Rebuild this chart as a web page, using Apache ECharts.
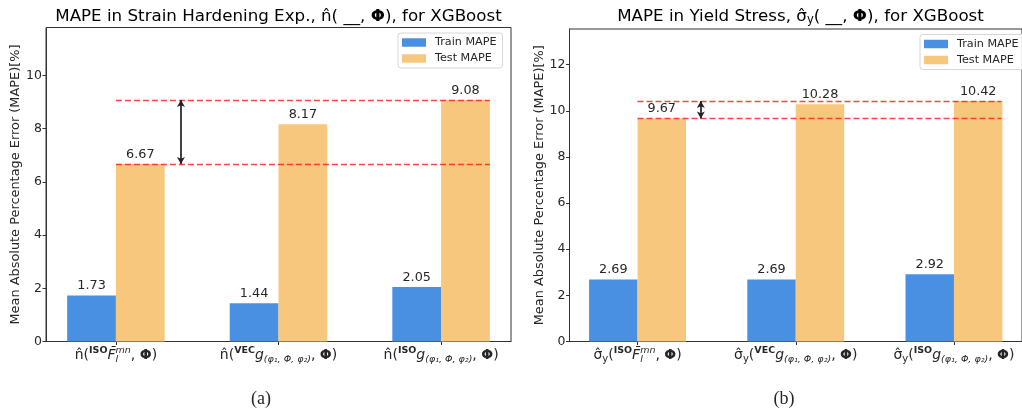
<!DOCTYPE html>
<html>
<head>
<meta charset="utf-8">
<script src="https://cdn.jsdelivr.net/npm/echarts@6/dist/echarts.min.js"></script>
<style>
html, body { margin: 0; padding: 0; background: #fff; }
#chart { width: 1022px; height: 416px; }
</style>
</head>
<body>
<div id="chart"></div>
<script>
// 数据
var xTicks = [0, 1, 2];
var trainN = [1.73, 1.44, 2.05];
var testN = [6.67, 8.17, 9.08];
var trainS = [2.69, 2.69, 2.92];
var testS = [9.67, 10.28, 10.42];
var yTicksN = [0, 2, 4, 6, 8, 10];
var yTicksS = [0, 2, 4, 6, 8, 10, 12];
var labelsN = [
	'{t|n̂(}{sup|ISO}{it|F̄}{sub|l}{sup2|mn}{t|, }{b|Φ}{t|)}',
	'{t|n̂(}{sup|VEC}{it|g}{sub2|(φ₁, Φ, φ₂)}{t|, }{b|Φ}{t|)}',
	'{t|n̂(}{sup|ISO}{it|g}{sub2|(φ₁, Φ, φ₂)}{t|, }{b|Φ}{t|)}'
];
var labelsS = [
	'{t|σ̂}{ys|y}{t|(}{sup|ISO}{it|F̄}{sub|l}{sup2|mn}{t|, }{b|Φ}{t|)}',
	'{t|σ̂}{ys|y}{t|(}{sup|VEC}{it|g}{sub2|(φ₁, Φ, φ₂)}{t|, }{b|Φ}{t|)}',
	'{t|σ̂}{ys|y}{t|(}{sup|ISO}{it|g}{sub2|(φ₁, Φ, φ₂)}{t|, }{b|Φ}{t|)}'
];
// 差值标注: [箭头x, 下, 上, 文字x, 文字]
var gapN = [0.4, 6.67, 9.08, 0.47, '2.41'];
var gapS = [0.4, 9.67, 10.42, 0.47, '0.76'];
var lineEnd = 2.3;

var font = 'DejaVu Sans';
var txt = '#262626';
var blue = '#4a90e2';
var orange = '#f8c77e';

var rich = {
	t: { fontSize: 14, fontFamily: font, color: txt, align: 'left' },
	b: { fontSize: 14, fontFamily: font, color: txt, fontWeight: 'bold', align: 'left' },
	it: { fontSize: 14, fontFamily: font, color: txt, fontStyle: 'italic', align: 'left' },
	sup: { fontSize: 9.5, fontFamily: font, color: txt, fontWeight: 'bold', padding: [0, 0, 10, 0], align: 'left' },
	sub: { fontSize: 9.5, fontFamily: font, color: txt, fontStyle: 'italic', padding: [8, 0, 0, 0], width: 0, align: 'left' },
	sup2: { fontSize: 9.5, fontFamily: font, color: txt, fontStyle: 'italic', padding: [0, 0, 10, 0], align: 'left' },
	sub2: { fontSize: 9.5, fontFamily: font, color: txt, fontStyle: 'italic', padding: [8, 0, 0, 0], align: 'left' },
	ys: { fontSize: 10, fontFamily: font, color: txt, padding: [7, 0, 0, 0], align: 'left' }
};
var titleRich = {
	t: { fontSize: 16.7, fontFamily: font, color: txt },
	b: { fontSize: 16.7, fontFamily: font, color: txt, fontWeight: 'bold' },
	s: { fontSize: 11.5, fontFamily: font, color: txt, padding: [8, 0, 0, 0] }
};

var grids = [
	{ left: 46, top: 27.5, width: 465, height: 314 },
	{ left: 569.5, top: 29, width: 462, height: 312.5 }
];
var xMin = -0.43, xMax = 2.43;

function bw(g) {
	return 0.3 * g.width / (xMax - xMin);
}

function pairs(vals) {
	return vals.map(function (v, i) { return [xTicks[i], v]; });
}

function xAxis(idx, labels) {
	return {
		type: 'value', gridIndex: idx, min: xMin, max: xMax,
		axisLine: { show: true, onZero: false, lineStyle: { color: '#333', width: 1 } },
		axisTick: { show: true, customValues: xTicks, length: 3.5, lineStyle: { color: '#333' } },
		axisLabel: {
			customValues: xTicks, margin: 4, rich: rich,
			formatter: function (v) { return labels[Math.round(v)]; }
		},
		splitLine: { show: false }
	};
}

function yAxis(idx, max, ticks) {
	return {
		type: 'value', gridIndex: idx, min: 0, max: max,
		name: 'Mean Absolute Percentage Error (MAPE)[%]',
		nameLocation: 'middle', nameGap: 22,
		nameTextStyle: { fontSize: 12.9, fontFamily: font, color: txt },
		axisLine: { show: true, onZero: false, lineStyle: { color: '#333', width: 1 } },
		axisTick: { show: true, customValues: ticks, length: 3.5, lineStyle: { color: '#333' } },
		axisLabel: { customValues: ticks, fontSize: 12.5, fontFamily: font, color: txt, margin: 4 },
		splitLine: { show: false }
	};
}

function barLabel() {
	return {
		show: true, position: 'top', distance: 3,
		fontSize: 12.8, fontFamily: font, color: txt,
		formatter: function (p) { return p.value[1].toFixed(2); }
	};
}

// 红色虚线 + 双向箭头 (挂在 scatter 上, 避免柱子偏移)
function marks(test, gap) {
	var red = { color: 'rgba(255,20,20,0.8)', type: [6, 3], width: 1.4 };
	return {
		silent: true, symbol: 'none', label: { show: false }, animation: false,
		data: [
			[{ coord: [0, test[0]], lineStyle: red }, { coord: [lineEnd, test[0]] }],
			[{ coord: [0, test[2]], lineStyle: red }, { coord: [lineEnd, test[2]] }],
			[{ coord: [gap[0], gap[1]], symbol: 'arrow', symbolSize: [6, 7], lineStyle: { color: '#222', type: 'solid', width: 1.7 } },
			 { coord: [gap[0], gap[2]], symbol: 'arrow', symbolSize: [6, 7] }]
		]
	};
}

function series(idx, train, test, gap) {
	var g = grids[idx];
	return [{
		name: 'Train MAPE', type: 'bar', xAxisIndex: idx, yAxisIndex: idx,
		data: pairs(train), barWidth: bw(g), barGap: '0%',
		itemStyle: { color: blue }, label: barLabel()
	}, {
		name: 'Test MAPE', type: 'bar', xAxisIndex: idx, yAxisIndex: idx,
		data: pairs(test), barWidth: bw(g), barGap: '0%',
		itemStyle: { color: orange }, label: barLabel()
	}, {
		type: 'scatter', xAxisIndex: idx, yAxisIndex: idx, z: 5,
		data: [[gap[3], (gap[1] + gap[2]) / 2]],
		symbolSize: 1, itemStyle: { opacity: 0 },
		label: {
			show: true, position: 'right', distance: 1,
			fontSize: 12.5, fontFamily: font, color: txt,
			formatter: gap[4]
		},
		markLine: marks(test, gap)
	}];
}

function legend(left, top) {
	return {
		left: left, top: top, orient: 'vertical',
		data: ['Train MAPE', 'Test MAPE'],
		icon: 'rect', itemWidth: 24, itemHeight: 8.5, itemGap: 5,
		padding: [4, 6, 4, 4],
		backgroundColor: 'rgba(255,255,255,0.85)',
		borderColor: '#d6d6d6', borderWidth: 1, borderRadius: 3,
		selectedMode: false,
		textStyle: { fontSize: 11.2, fontFamily: font, color: txt, padding: [0, 0, 0, 4] }
	};
}

var myChart = echarts.init(document.getElementById('chart'));
var option = {
	animation: false,
	grid: grids.map(function (g) {
		return { left: g.left, top: g.top, width: g.width, height: g.height, show: true, borderColor: '#333', borderWidth: 1, containLabel: false };
	}),
	xAxis: [xAxis(0, labelsN), xAxis(1, labelsS)],
	yAxis: [yAxis(0, 9.08 * 1.3, yTicksN), yAxis(1, 10.42 * 1.3, yTicksS)],
	legend: [legend(398, 33), legend(920, 34.5)],
	series: series(0, trainN, testN, gapN).concat(series(1, trainS, testS, gapS)),
	graphic: [
		{ type: 'text', x: 278.5, y: 16.5, style: { text: '{t|MAPE in Strain Hardening Exp., n̂( __, }{b|Φ}{t|), for XGBoost}', rich: titleRich, align: 'center', verticalAlign: 'middle' } },
		{ type: 'text', x: 800.5, y: 16.5, style: { text: '{t|MAPE in Yield Stress, σ̂}{s|y}{t|( __, }{b|Φ}{t|), for XGBoost}', rich: titleRich, align: 'center', verticalAlign: 'middle' } },
		{ type: 'text', x: 261, y: 399, style: { text: '(a)', fontSize: 18, fontFamily: 'Liberation Serif', fill: txt, align: 'center', verticalAlign: 'middle' } },
		{ type: 'text', x: 784, y: 399, style: { text: '(b)', fontSize: 18, fontFamily: 'Liberation Serif', fill: txt, align: 'center', verticalAlign: 'middle' } }
	]
};
myChart.setOption(option);
</script>
</body>
</html>
